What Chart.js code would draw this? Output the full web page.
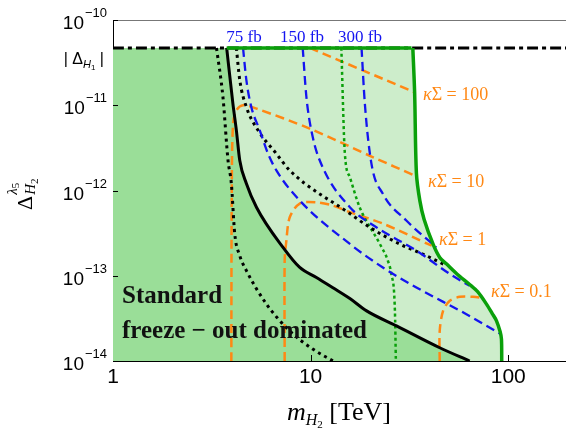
<!DOCTYPE html>
<html>
<head>
<meta charset="utf-8">
<script src="https://cdn.jsdelivr.net/npm/chart.js@4.4.0/dist/chart.umd.min.js"></script>
<style>
  html, body { margin: 0; padding: 0; background: #fff; }
</style>
</head>
<body>
<canvas id="myChart" width="566" height="430"></canvas>
<script>
/* values: x = m_H2 in TeV, y = Delta */

const deltaH1 = 4.7e-11;
const xRange = [1, 196];
const yRange = [1e-14, 1e-10];
const xTicks = [1, 10, 100];
const xTickLabels = ['1', '10', '100'];
const yTicks = [1e-10, 1e-11, 1e-12, 1e-13, 1e-14];
const yTickExp = ['\u221210', '\u221211', '\u221212', '\u221213', '\u221214'];

// solid black: edge of the freeze-out dominated region
const blackSolid = [[3.76, 4.7e-11], [4.04, 1.06e-11], [4.21, 5.08e-12], [4.38, 2.25e-12], [4.73, 1.21e-12],
  [5.32, 6.37e-13], [7.25, 2.15e-13], [8.81, 1.25e-13], [10.7, 9.55e-14], [12.9, 7.28e-14], [15.8, 5.4e-14],
  [19.2, 3.87e-14], [27.2, 2.58e-14], [45, 1.43e-14], [63.8, 1e-14]];

// solid green: outer edge of the allowed region
const greenTop = [[3.76, 4.7e-11], [32.4, 4.7e-11]];
const greenCurve = [[32.9, 4.7e-11], [33.6, 1.4e-11], [34.3, 1.6e-12], [35.7, 7.6e-13], [37.5, 4.6e-13],
  [41.6, 2.36e-13], [45, 1.64e-13], [48.8, 1.37e-13], [55, 1.05e-13], [63.8, 7.9e-14], [70, 6.5e-14],
  [77.6, 4.65e-14], [83, 3.6e-14], [87.2, 2.96e-14], [91, 2.2e-14], [92.4, 1.8e-14], [92.7, 1e-14]];

const blackDotted1 = [[3.34, 4.7e-11], [3.6, 1.25e-11], [3.82, 2.25e-12], [3.97, 1.21e-12], [4.13, 3.12e-13],
  [4.38, 1.72e-13], [4.73, 1.15e-13], [5.98, 4.65e-14], [7.84, 2.25e-14], [10.3, 1.37e-14], [13.0, 1e-14]];
const blackDotted2 = [[4.21, 4.7e-11], [4.38, 1.97e-11], [4.73, 9.55e-12], [5.42, 5.08e-12], [6.71, 2.7e-12],
  [7.84, 1.72e-12], [15.8, 5.36e-13], [19.9, 3.7e-13], [28.2, 2.36e-13], [38.5, 1.72e-13], [48.7, 1.31e-13]];

const blue75 = [[4.55, 4.7e-11], [4.73, 1.97e-11], [5.01, 9.55e-12], [5.53, 5.08e-12], [6.09, 2.7e-12],
  [6.71, 1.72e-12], [8.81, 7.62e-13], [15.8, 2.36e-13], [23.2, 1.25e-13], [34.3, 7.28e-14],
  [61.4, 3.54e-14], [90.6, 2.1e-14]];
const blue150 = [[9.12, 4.7e-11], [9.52, 1.25e-11], [10.25, 4.24e-12], [11.5, 1.88e-12], [15.8, 6.37e-13],
  [21.5, 3.7e-13], [34.3, 1.97e-13], [50.6, 1.05e-13], [63.8, 7.62e-14]];
const blue300 = [[18.1, 4.7e-11], [18.8, 1.06e-11], [20.3, 2.08e-12], [23.2, 9.14e-13], [30.5, 4.44e-13],
  [43.3, 2.15e-13]];

const greenDotted = [[14.3, 4.7e-11], [14.9, 2.72e-12], [15.8, 1.43e-12], [17.7, 6.37e-13], [22.4, 2.36e-13],
  [24.6, 1.5e-13], [25.6, 1.05e-13], [26.7, 3.87e-14], [27.0, 1e-14]];

const orange100 = [[9.9, 4.7e-11], [33.6, 1.42e-11]];
const orange10 = [[3.97, 1e-14], [3.99, 1e-12], [4.05, 6.1e-12], [4.21, 8.73e-12], [4.55, 1.0e-11],
  [5.32, 9.14e-12], [9.89, 5.32e-12], [20.6, 2.47e-12], [33.6, 1.5e-12]];
const orange1 = [[7.39, 1e-14], [7.39, 1.5e-13], [7.54, 2.58e-13], [7.84, 4.85e-13], [8.81, 7.03e-13],
  [10.7, 7.28e-13], [12.9, 6.67e-13], [15.8, 5.56e-13], [23.2, 4.09e-13], [41, 2.25e-13]];
const orange01 = [[45, 1e-14], [45, 2.25e-14], [46.8, 3.87e-14], [50.6, 5.08e-14], [56.9, 5.66e-14],
  [66.4, 5.66e-14], [74.5, 5.47e-14]];

const lumiLabels = ['75 fb', '150 fb', '300 fb'];
const lumiLabelX = [244, 302, 360];
const kappaLabels = ['100', '10', '1', '0.1'];

const DARK = 'rgb(154,222,152)';
const LIGHT = 'rgb(205,237,203)';
const GREEN = 'rgb(10,160,10)';
const BLUE = 'rgb(20,20,240)';
const ORANGE = 'rgb(255,136,20)';
const SERIF = '"Liberation Serif", "DejaVu Serif", serif';
const SANS = '"Liberation Sans", Arial, sans-serif';

function pts(arr) {
    return arr.map(p => ({ x: p[0], y: p[1] }));
}

function line(data, color, width, dash, order, smooth) {
    const ds = {
        data: pts(data),
        borderColor: color,
        borderWidth: width,
        borderDash: dash,
        pointRadius: 0,
        fill: false,
        tension: 0.3,
        order: order
    };
    if (smooth) ds.cubicInterpolationMode = 'monotone';
    return ds;
}

function area(data, color, order, smooth) {
    const ds = {
        data: pts(data),
        borderWidth: 0,
        borderColor: 'rgba(0,0,0,0)',
        backgroundColor: color,
        pointRadius: 0,
        fill: 'start',
        tension: 0.3,
        order: order
    };
    if (smooth) ds.cubicInterpolationMode = 'monotone';
    return ds;
}

// draws a run of text pieces with their own font and vertical shift
function drawRich(ctx, pieces, x, y, align) {
    let total = 0;
    pieces.forEach(p => { ctx.font = p.font; total += ctx.measureText(p.t).width; });
    let cx = align === 'right' ? x - total : align === 'center' ? x - total / 2 : x;
    ctx.textAlign = 'left';
    pieces.forEach(p => {
        ctx.font = p.font;
        ctx.fillText(p.t, cx, y + (p.dy || 0));
        cx += ctx.measureText(p.t).width;
    });
}

const decor = {
    id: 'decor',
    afterDraw(chart) {
        const ctx = chart.ctx;
        const xs = chart.scales.x;
        const ys = chart.scales.y;
        const a = chart.chartArea;
        ctx.save();
        ctx.textBaseline = 'alphabetic';

        // top frame
        ctx.strokeStyle = '#777';
        ctx.lineWidth = 1;
        ctx.beginPath();
        ctx.moveTo(a.left, a.top + 0.5);
        ctx.lineTo(a.right, a.top + 0.5);
        ctx.stroke();

        // tick marks inside the frame
        ctx.strokeStyle = '#000';
        yTicks.forEach(v => {
            const py = Math.round(ys.getPixelForValue(v)) + 0.5;
            ctx.beginPath(); ctx.moveTo(a.left, py); ctx.lineTo(a.left + 5, py); ctx.stroke();
        });
        xTicks.slice(1).forEach(v => {
            const px = Math.round(xs.getPixelForValue(v)) + 0.5;
            ctx.beginPath(); ctx.moveTo(px, a.bottom); ctx.lineTo(px, a.bottom - 6); ctx.stroke();
        });

        // y tick labels 10^-n
        ctx.fillStyle = '#000';
        yTicks.forEach((v, i) => {
            const py = ys.getPixelForValue(v);
            ctx.textAlign = 'right';
            ctx.font = '13px ' + SANS;
            ctx.fillText(yTickExp[i], 107, py - 3);
            const w = ctx.measureText(yTickExp[i]).width;
            ctx.font = '19px ' + SANS;
            ctx.fillText('10', 107 - w - 1, py + 9);
        });
        const ph = ys.getPixelForValue(deltaH1);
        drawRich(ctx, [
            { t: '| \u0394', font: '16px ' + SANS },
            { t: 'H', font: 'italic 11px ' + SANS, dy: 4 },
            { t: '1', font: '8px ' + SANS, dy: 6 },
            { t: ' |', font: '16px ' + SANS }
        ], 104, ph + 16, 'right');

        // x tick labels
        ctx.font = '21px ' + SANS;
        ctx.textAlign = 'center';
        xTicks.forEach((v, i) => {
            ctx.fillText(xTickLabels[i], xs.getPixelForValue(v), 383);
        });

        // axis titles
        drawRich(ctx, [
            { t: 'm', font: 'italic 26px ' + SERIF },
            { t: 'H', font: 'italic 16px ' + SERIF, dy: 5 },
            { t: '2', font: '11px ' + SERIF, dy: 8 },
            { t: ' [TeV]', font: '26px ' + SERIF }
        ], 339, 420, 'center');

        ctx.save();
        ctx.translate(32, 210);
        ctx.rotate(-Math.PI / 2);
        ctx.textAlign = 'left';
        ctx.font = '22px ' + SERIF;
        ctx.fillText('\u0394', 0, 0);
        const dw = ctx.measureText('\u0394').width;
        drawRich(ctx, [
            { t: '\u03bb', font: 'italic 15px ' + SERIF },
            { t: '5', font: '11px ' + SERIF, dy: 2 }
        ], dw + 1, -15, 'left');
        drawRich(ctx, [
            { t: 'H', font: 'italic 15px ' + SERIF },
            { t: '2', font: '11px ' + SERIF, dy: 3 }
        ], dw + 1, 3, 'left');
        ctx.restore();

        // luminosity labels
        ctx.fillStyle = BLUE;
        ctx.font = '17px ' + SERIF;
        ctx.textAlign = 'center';
        lumiLabels.forEach((t, i) => ctx.fillText(t, lumiLabelX[i], 42));

        // kappa sigma labels
        ctx.fillStyle = ORANGE;
        const kpos = [[423, 100], [428, 187], [439, 245], [491, 297]];
        kappaLabels.forEach((t, i) => {
            drawRich(ctx, [
                { t: '\u03ba', font: 'italic 18px ' + SERIF },
                { t: '\u03a3 = ' + t, font: '18px ' + SERIF }
            ], kpos[i][0], kpos[i][1], 'left');
        });

        // region label
        ctx.fillStyle = '#111';
        ctx.textAlign = 'left';
        ctx.font = 'bold 25px ' + SERIF;
        ctx.fillText('Standard', 122, 303);
        ctx.fillText('freeze \u2212 out dominated', 122, 338);

        ctx.restore();
    }
};

function mainEvent() {
    const target = document.querySelector('#myChart');
    const datasets = [
        area([[1, deltaH1], [32.0, deltaH1]].concat(greenCurve), LIGHT, 30, false),
        area([[1, deltaH1], [3.6, deltaH1]].concat(blackSolid), DARK, 29, true),
        line([[1, deltaH1], [xRange[1], deltaH1]], '#000', 3, [11, 4, 4, 4], 20, false),
        line(orange100, ORANGE, 2.5, [9, 5], 12, false),
        line(orange10, ORANGE, 2.5, [9, 5], 12, false),
        line(orange1, ORANGE, 2.5, [9, 5], 12, false),
        line(orange01, ORANGE, 2.5, [9, 5], 12, false),
        line(greenDotted, GREEN, 2.5, [3, 3], 11, true),
        line(blackDotted1, '#000', 3, [3, 4], 10, true),
        line(blackDotted2, '#000', 3, [3, 4], 10, true),
        line(blue75, BLUE, 2.3, [9, 5], 9, true),
        line(blue150, BLUE, 2.3, [9, 5], 9, true),
        line(blue300, BLUE, 2.3, [9, 5], 9, true),
        line(blackSolid, '#000', 3, [], 2, true),
        line(greenTop, GREEN, 3.5, [], 1, false),
        line(greenCurve, GREEN, 3.5, [], 1, false)
    ];

    return new Chart(target, {
        type: 'line',
        data: { datasets: datasets },
        options: {
            responsive: false,
            animation: false,
            devicePixelRatio: 1,
            layout: { padding: { top: 20, right: 0, bottom: 0, left: 0 } },
            plugins: { legend: { display: false }, tooltip: { enabled: false } },
            scales: {
                x: {
                    type: 'logarithmic',
                    min: xRange[0],
                    max: xRange[1],
                    ticks: { display: false },
                    grid: { display: false },
                    border: { display: true, color: '#000', width: 1 },
                    afterFit: (s) => { s.height = 69; }
                },
                y: {
                    type: 'logarithmic',
                    min: yRange[0],
                    max: yRange[1],
                    ticks: { display: false },
                    grid: { display: false },
                    border: { display: true, color: '#000', width: 1 },
                    afterFit: (s) => { s.width = 113; }
                }
            }
        },
        plugins: [decor]
    });
}

document.addEventListener('DOMContentLoaded', () => mainEvent());
</script>
</body>
</html>
